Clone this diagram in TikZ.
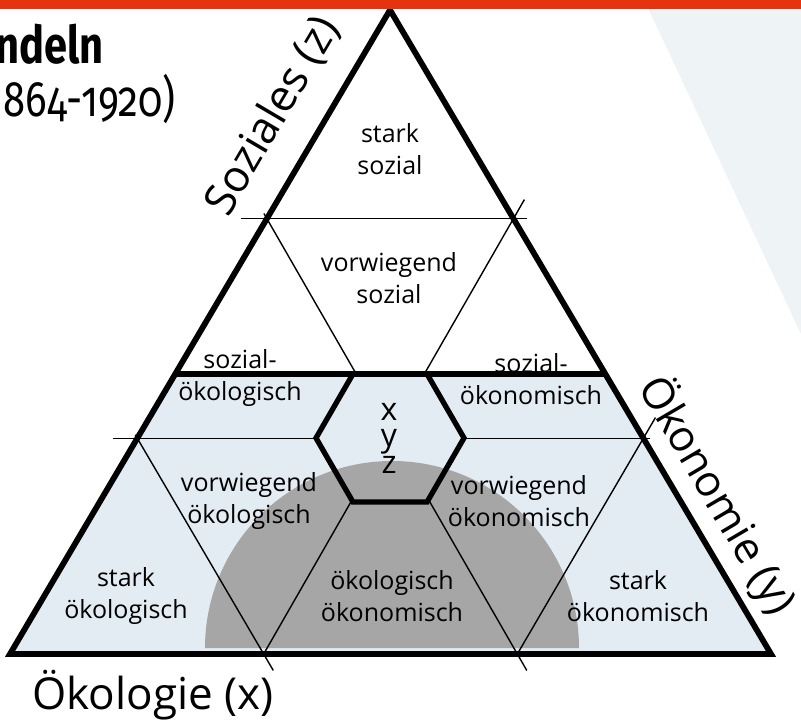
\documentclass[tikz,border=0pt]{standalone}
\usepackage{fontspec}
\setmainfont{Open Sans}
\newfontfamily\headfont[Numbers=OldStyle]{Fira Sans}
\usetikzlibrary{calc}
\definecolor{topred}{HTML}{E5330F}
\definecolor{paneblue}{HTML}{EEF3F6}
\definecolor{zoneblue}{HTML}{E3ECF3}
\definecolor{halfgray}{HTML}{A6A6A6}
\tikzset{
  edge/.style={line width=5.8pt},
  grid/.style={line width=1.4pt},
  field/.style={align=center, inner sep=0pt, font=\fontsize{25}{32}\selectfont},
  axis/.style={inner sep=0pt, font=\fontsize{44}{50}\selectfont},
}
\begin{document}
\begin{tikzpicture}[x=1pt,y=-1pt]
    \useasboundingbox (0,0) rectangle (801,721);
    % Background:
    % the pale pane on the right, the red bar is drawn at the very end
    \fill [paneblue] (648,8) -- (801,8) -- (801,334) -- cycle;

    % Corners of the triangle and the points where the thirds cut its sides
    \coordinate (A) at (10,654);   % Oekologie corner
    \coordinate (B) at (771,654);  % Oekonomie corner
    \coordinate (C) at (390,10);   % Soziales corner
    \coordinate (l1) at ($(A)!0.335!(C)$);
    \coordinate (l2) at ($(A)!0.676!(C)$);
    \coordinate (r1) at ($(B)!0.335!(C)$);
    \coordinate (r2) at ($(B)!0.676!(C)$);
    \coordinate (b1) at ($(A)!1/3!(B)$);
    \coordinate (b2) at ($(A)!2/3!(B)$);
    \coordinate (lm) at ($(A)!0.435!(C)$);
    \coordinate (rm) at ($(B)!0.435!(C)$);
    \coordinate (O) at (390,438);  % centre of the hexagon
    \foreach \a [count=\i] in {0,60,...,300}
        \coordinate (h\i) at ($(O)+(\a:74)$);

    % Lower part is tinted, the half disc lies on top of it
    \fill [zoneblue] (A) -- (B) -- (rm) -- (lm) -- cycle;
    \fill [halfgray] (205,648) arc [start angle=180, end angle=360, radius=187] -- cycle;

    % Field labels
    \node [field] (stsoz)  at (390,149) {stark\\sozial};
    \node [field] (vwsoz)  at (389,278) {vorwiegend\\sozial};
    \node [field] (sozoek) at (240,378) {sozial-\\ökologisch};
    \node [field] (sozkon) at (531,379) {sozial-\\ökonomisch};
    \node [field] (vwoek)  at (249,501) {vorwiegend\\ökologisch};
    \node [field] (vwkon)  at (519,501) {vorwiegend\\ökonomisch};
    \node [field] (stoek)  at (126,596) {stark\\ökologisch};
    \node [field] (oekkon) at (392,596) {ökologisch\\ökonomisch};
    \node [field] (stkon)  at (638,596) {stark\\ökonomisch};

    % Grid lines at one and two thirds, with small overhangs as ticks
    \draw [grid, shorten <=-26pt, shorten >=-14pt] (l2) -- (r2);
    \draw [grid, shorten <=-24pt, shorten >=-7pt] (l1) -- (r1);
    \draw [grid, shorten <=-6pt, shorten >=-19pt] (l2) -- (b2);
    \draw [grid, shorten <=-4pt, shorten >=-19pt] (l1) -- (b1);
    \draw [grid, shorten >=-22pt] (b1) -- (r2);
    \draw [grid, shorten >=-24pt] (b2) -- (r1);

    % Hexagon in the middle: covers the grid, keeps the half disc
    \fill [zoneblue] (h1) -- (h2) -- (h3) -- (h4) -- (h5) -- (h6) -- cycle;
    \begin{scope}
        \clip (h1) -- (h2) -- (h3) -- (h4) -- (h5) -- (h6) -- cycle;
        \fill [halfgray] (205,648) arc [start angle=180, end angle=360, radius=187] -- cycle;
    \end{scope}
    \draw [edge, line width=5.3pt] (h1) -- (h2) -- (h3) -- (h4) -- (h5) -- (h6) -- cycle;
    \node [align=center, inner sep=0pt, font=\fontsize{32}{26.5}\selectfont] (xyz) at (389,438) {x\\y\\z};

    % Thick line and the triangle
    \draw [edge, line width=5.3pt] (lm) -- (rm);
    \draw [edge] (A) -- (B) -- (C) -- cycle;

    % Axis names
    \node [axis] (oekol) at (153,695) {Ökologie (x)};
    \node [axis, rotate=59.5] (sozi) at (273,116) {Soziales (z)};
    \node [axis, rotate=-59.5, font=\fontsize{43}{50}\selectfont] (oekon) at (717,495) {Ökonomie (y)};

    % Cut off heading on the left
    \node [anchor=base east, inner sep=0pt, xscale=0.8, transform shape,
           font=\headfont\bfseries\fontsize{52}{58}\selectfont] (title) at (104,63) {ndeln};
    \node [anchor=base east, inner sep=0pt, xscale=0.8, transform shape,
           font=\headfont\fontsize{50}{56}\selectfont] (years) at (176,116) {864-1920)};

    \fill [topred] (0,0) rectangle (801,8.5);
\end{tikzpicture}
\end{document}
